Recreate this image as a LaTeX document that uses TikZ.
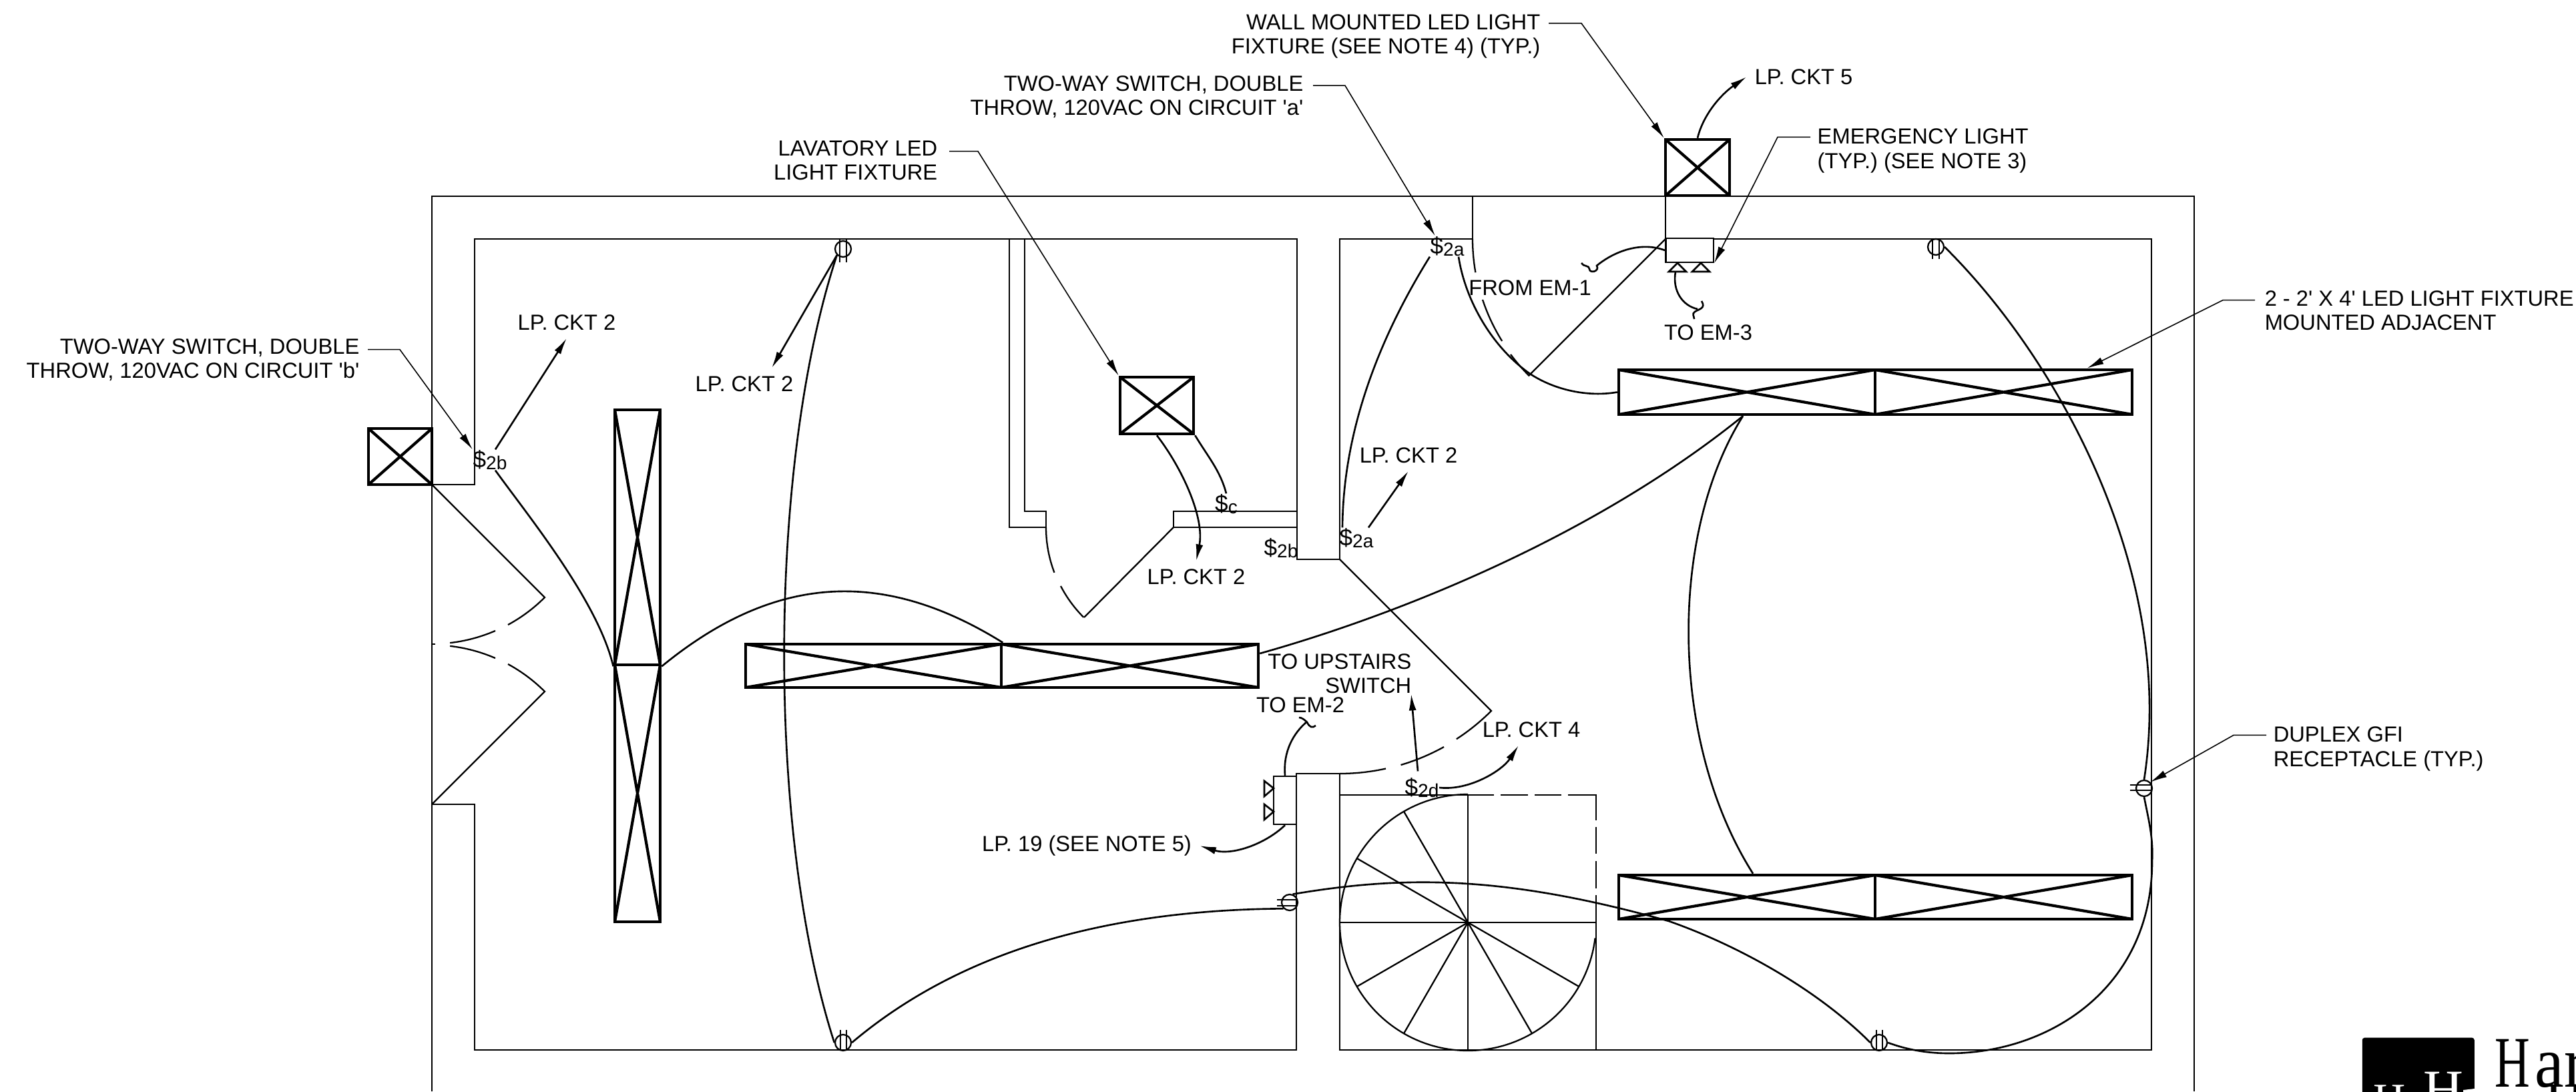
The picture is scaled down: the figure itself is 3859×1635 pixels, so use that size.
\documentclass[tikz,border=0pt]{standalone}
\usepackage{fontspec}
\setmainfont{Liberation Sans}
\newfontfamily\logofont{Liberation Serif}
\usetikzlibrary{arrows.meta}
\tikzset{
	wall/.style={line width=.65pt},
	wire/.style={line width=.75pt},
	lead/.style={line width=.45pt},
	fixture/.style 2 args={draw, line width=1.3pt, minimum width=#1, minimum height=#2,
		path picture={\draw[line width=1.2pt] (path picture bounding box.north west) -- (path picture bounding box.south east)
			(path picture bounding box.south west) -- (path picture bounding box.north east);}},
	recept/.style={draw, circle, line width=.65pt, minimum size=2.4mm},
	embox/.style 2 args={draw, line width=.7pt, minimum width=#1, minimum height=#2},
	ckt/.style={outer sep=1.2mm},
	swt/.style={font=\fontsize{10}{10.3}\selectfont},
}
\newcommand{\swsub}[1]{\raisebox{-1pt}{\fontsize{8}{8.5}\selectfont #1}}
\begin{document}
\begin{tikzpicture}[x=0.1mm, y=-0.1mm, inner sep=0pt, >={Latex[length=2.5mm,width=1.1mm]},
		every node/.append style={font=\fontsize{9.3}{10.3}\selectfont}]
	\useasboundingbox (0, 0) rectangle (3859, 1635);
	\clip (0, 0) rectangle (3859, 1635);
	\draw[wall] (647, 1635) -- (647, 294) -- (3287, 294) -- (3287, 1635);
	\draw[wall] (647, 726) -- (711, 726) -- (711, 358) -- (1943, 358) -- (1943, 838) -- (2007, 838) -- (2007, 358) -- (2206, 358) -- (2206, 294);
	\draw[wall] (2495, 294) -- (2495, 358) (2566, 358) -- (3223, 358) -- (3223, 1573) -- (2007, 1573) -- (2007, 1159) -- (1942, 1159) -- (1942, 1573) -- (711, 1573) -- (711, 1205) -- (647, 1205);
	\draw[wall] (1512, 358) -- (1512, 790) -- (1567, 790) -- (1567, 766) -- (1535, 766) -- (1535, 358);
	\draw[wall] (1943, 766) -- (1758, 766) -- (1758, 790) -- (1943, 790);
	\draw[wall] (1758, 790) -- (1624, 925);
	\draw[wall] (1567, 790) arc[start angle=180, end angle=200.8, radius=19.1mm];
	\draw[wall] (1589, 878) arc[start angle=207.5, end angle=225, radius=19.1mm];
	\draw[wall] (647, 726) -- (816, 895) arc[start angle=-45, end angle=-61.5, radius=23.9mm];
	\draw[wall] (742, 945) arc[start angle=-66.6, end angle=-83.5, radius=23.9mm];
	\draw[wall] (647, 1205) -- (816, 1036) arc[start angle=45, end angle=61.5, radius=23.9mm];
	\draw[wall] (742, 986) arc[start angle=66.6, end angle=83.5, radius=23.9mm];
	\draw[wall] (647, 965) -- (652, 965);
	\draw[wall] (2007, 838) -- (2234, 1065) arc[start angle=-45, end angle=-57, radius=32.1mm];
	\draw[wall] (2163, 1119) arc[start angle=-61, end angle=-73.5, radius=32.1mm];
	\draw[wall] (2076, 1151.5) arc[start angle=-77.6, end angle=-90, radius=32.1mm];
	\draw[wall] (2206, 358) arc[start angle=180, end angle=190, radius=28.9mm];
	\draw[wall] (2221, 449) arc[start angle=198.4, end angle=212, radius=28.9mm];
	\draw[wall] (2263, 531) arc[start angle=216.7, end angle=225, radius=28.9mm] -- (2495, 358);

	\coordinate (stair) at (2199, 1382);
	\draw[wall] (2238, 1191) -- (2007, 1191);
	\draw[wall] (2391, 1341) -- (2391, 1573);
	\draw[wall] (2248, 1191) -- (2289, 1191) (2299, 1191) -- (2339, 1191) (2349, 1191) -- (2391, 1191) -- (2391, 1229) (2391, 1239) -- (2391, 1279) (2391, 1290) -- (2391, 1331);
	\draw[wall] (2007, 1382) -- (2391, 1382) (2199, 1191) -- (2199, 1573);
	\draw[wall] (2199, 1190) arc[start angle=90, end angle=353, radius=19.2mm];
	\foreach \a in {120, 150, 210, 240, 300, 330}
		\draw[wall] (stair) -- ++(\a:19.2mm);

	\node[fixture={9.5mm}{8.4mm}] (sqWest) at (599.5, 684) {};
	\node[fixture={11mm}{8.5mm}] (sqLav) at (1733, 607.5) {};
	\node[fixture={9.6mm}{8.4mm}] (sqNorth) at (2543, 251) {};
	\node[fixture={6.8mm}{38.2mm}] (fixVa) at (955, 805) {};
	\node[fixture={6.8mm}{38.5mm}] (fixVb) at (955, 1188.5) {};
	\node[fixture={38.3mm}{6.5mm}] (fixHa) at (1308.5, 997.5) {};
	\node[fixture={38.5mm}{6.5mm}] (fixHb) at (1692.5, 997.5) {};
	\node[fixture={38.4mm}{6.7mm}] (fixNa) at (2617, 587.5) {};
	\node[fixture={38.5mm}{6.7mm}] (fixNb) at (3001.5, 587.5) {};
	\node[fixture={38.4mm}{6.6mm}] (fixSa) at (2617, 1344) {};
	\node[fixture={38.5mm}{6.6mm}] (fixSb) at (3001.5, 1344) {};

	\node[embox={7.15mm}{3.6mm}] (emNorth) at (2531, 375) {};
	\node[embox={3.4mm}{7.2mm}] (emSouth) at (1925, 1199) {};
	\draw[wire] (2500, 407) -- (2526, 407) -- (2513, 394) -- cycle (2535, 407) -- (2561, 407) -- (2548, 394) -- cycle;
	\draw[wire] (1894, 1170) -- (1894, 1193) -- (1908, 1181) -- cycle (1894, 1205) -- (1894, 1228) -- (1908, 1216) -- cycle;

	\node[recept] (recA) at (1263, 373) {};
	\node[recept] (recB) at (2900, 370) {};
	\node[recept] (recC) at (1263, 1562) {};
	\node[recept] (recD) at (2815, 1562) {};
	\node[recept] (recE) at (3212, 1181) {};
	\node[recept] (recF) at (1932, 1352) {};
	\draw[wall] (1258, 358) -- (1258, 393) (1268, 358) -- (1268, 393) (2895, 358) -- (2895, 388) (2905, 358) -- (2905, 388);
	\draw[wall] (1259, 1543) -- (1259, 1573) (1268, 1543) -- (1268, 1573) (2811, 1543) -- (2811, 1573) (2820, 1543) -- (2820, 1573);
	\draw[wall] (3191, 1176) -- (3224, 1176) (3191, 1184) -- (3224, 1184) (1913, 1348) -- (1944, 1348) (1913, 1357) -- (1944, 1357);

	\node[swt] (swWest) at (734, 689) {\$\swsub{2b}};
	\node[swt] (swTop) at (2168, 369) {\$\swsub{2a}};
	\node[swt] (swLow) at (2032, 806) {\$\swsub{2a}};
	\node[swt] (swLav) at (1837, 755) {\$\swsub{c}};
	\node[swt] (swHall) at (1919, 821) {\$\swsub{2b}};
	\node[swt] (swStair) at (2130, 1180) {\$\swsub{2d}};

	\node[ckt] (cktA) at (849, 483) {LP. CKT 2};
	\node[ckt] (cktB) at (1115, 575) {LP. CKT 2};
	\node[ckt] (cktC) at (1792, 864) {LP. CKT 2};
	\node[ckt] (cktD) at (2110, 682) {LP. CKT 2};
	\node[ckt] (cktFour) at (2294, 1093) {LP. CKT 4};
	\node[ckt] (cktFive) at (2702, 115) {LP. CKT 5};
	\node[ckt] (cktNineteen) at (1628, 1267) {LP. 19 (SEE NOTE 5)};
	\node (toEmTwo) at (1948, 1056) {TO EM-2};
	\node (toEmThree) at (2559, 498) {TO EM-3};
	\node (fromEmOne) at (2292, 431) {FROM EM-1};
	\node[anchor=east, align=right] (noteUp) at (2115, 1009) {TO UPSTAIRS\\SWITCH};
	\node[anchor=east, align=right] (noteWest) at (539, 539) {TWO-WAY SWITCH, DOUBLE\\THROW, 120VAC ON CIRCUIT \textquotesingle b\textquotesingle};
	\node[anchor=east, align=right] (noteTop) at (1953, 145.5) {TWO-WAY SWITCH, DOUBLE\\THROW, 120VAC ON CIRCUIT \textquotesingle a\textquotesingle};
	\node[anchor=east, align=right] (noteWall) at (2308, 54.5) {WALL MOUNTED LED LIGHT\\FIXTURE (SEE NOTE 4) (TYP.)};
	\node[anchor=east, align=right] (noteLav) at (1405, 240) {LAVATORY LED\\LIGHT FIXTURE};
	\node[anchor=west, align=left] (noteEm) at (2722, 226) {EMERGENCY LIGHT\\(TYP.) (SEE NOTE 3)};
	\node[anchor=west, align=left] (noteFix) at (3392, 465) {2 - 2\textquotesingle{} X 4\textquotesingle{} LED LIGHT FIXTURE\\MOUNTED ADJACENT};
	\node[anchor=west, align=left] (noteGfi) at (3405, 1122) {DUPLEX GFI\\RECEPTACLE (TYP.)};

	\draw[lead, ->] ([shift={(1.2mm,-1.7mm)}]noteWest.north east) -- ++(48, 0) -- (swWest.north west);
	\draw[lead, ->] ([shift={(1.4mm,-1.5mm)}]noteTop.north east) -- ++(48, 0) -- ([xshift=.8mm]swTop.north west);
	\draw[lead, ->] ([shift={(1.2mm,-1.4mm)}]noteWall.north east) -- ++(49, 0) -- (sqNorth.north west);
	\draw[lead, ->] ([shift={(1.7mm,-1.7mm)}]noteLav.north east) -- ++(43, 0) -- (sqLav.north west);
	\draw[lead, ->] ([shift={(-1mm,-1.3mm)}]noteEm.north west) -- ++(-49, 0) -- (emNorth.south east);
	\draw[lead, ->] ([shift={(-1.4mm,-1.5mm)}]noteFix.north west) -- ++(-48, 0) -- ([xshift=12.5mm]fixNb.north);
	\draw[lead, ->] ([shift={(-1mm,-1.3mm)}]noteGfi.north west) -- ++(-49, 0) -- (recE.north east);

	\draw[wire, ->] ([xshift=.8mm]swWest.north) -- (cktA.south);
	\draw[wire] ([xshift=.8mm]swWest.south) .. controls (792, 774) and (896, 901) .. (fixVa.south west);
	\draw[wire] (fixVa.south east) .. controls (1166, 855) and (1329, 855) .. (fixHa.north east);
	\draw[wire, ->] (recA.south west) -- ([xshift=4.1mm]cktB.north);
	\draw[wire] (recA.south west) .. controls (1149, 700) and (1149, 1250) .. (recC.west);
	\draw[wire] (recC.east) .. controls (1450, 1415) and (1680, 1363) .. (recF.south west);
	\draw[wire] (recF.70) .. controls (2100, 1312) and (2250, 1310) .. (2500, 1380) .. controls (2600, 1415) and (2720, 1480) .. (recD.west);
	\draw[wire] ([yshift=1.85mm]fixHb.east) .. controls (2080, 925) and (2380, 810) .. ([xshift=-.6mm]fixNa.south);
	\draw[wire] ([xshift=-.6mm]fixNa.south) .. controls (2500, 800) and (2500, 1110) .. ([xshift=.9mm]fixSa.north);
	\draw[wire] (recB.east) .. controls (3085, 540) and (3260, 860) .. (recE.north);
	\draw[wire] (recE.south) .. controls (3218, 1225) and (3226, 1255) .. (3224, 1290) .. controls (3224, 1480) and (3070, 1578) .. (2920, 1578) .. controls (2885, 1578) and (2855, 1572) .. (recD.east);
	\draw[wire] (swTop.south west) .. controls (2070, 500) and (2012, 640) .. ([xshift=-2.1mm]swLow.north);
	\draw[wire, ->] ([xshift=1.8mm]swLow.north) -- (cktD.south);
	\draw[wire] ([xshift=1.7mm]swTop.south) .. controls (2195, 450) and (2235, 520) .. (2292, 560) .. controls (2330, 585) and (2380, 595) .. (fixNa.west);
	\draw[wire] (sqLav.south east) .. controls (1810, 685) and (1828, 705) .. (swLav.north);
	\draw[wire, ->] (sqLav.south) .. controls (1770, 700) and (1805, 775) .. (cktC.north);
	\draw[wire, ->] ([yshift=.9mm,xshift=-.6mm]swStair.north) -- ([xshift=-.1mm]noteUp.south east);
	\draw[wire, ->] (swStair.east) .. controls (2200, 1185) and (2250, 1155) .. ([xshift=-1.9mm]cktFour.south);
	\draw[wire, ->] (sqNorth.north) .. controls (2552, 170) and (2580, 140) .. (cktFive.west);
	\draw[wire, ->] (emSouth.south) .. controls (1895, 1265) and (1845, 1282) .. (cktNineteen.east);
	\draw[wire] (emNorth.west) .. controls (2460, 362) and (2420, 375) .. (2392, 398) .. controls (2397, 407) and (2381, 410) .. (2381, 403) .. controls (2381, 397) and (2372, 400) .. (2369, 394);
	\draw[wire] (2510, 407) .. controls (2505, 435) and (2520, 458) .. (2543, 463);
	\draw[wire] (2549, 451) .. controls (2556, 462) and (2545, 463) .. (2539, 467) .. controls (2534, 470) and (2538, 474) .. (2538, 478);
	\draw[wire] (emSouth.north) .. controls (1922, 1125) and (1938, 1098) .. (1958, 1081);
	\draw[wire] (1946, 1075) .. controls (1950, 1075) and (1954, 1078) .. (1958, 1082) .. controls (1962, 1090) and (1966, 1091) .. (1971, 1087);

	\node[fill=black, rounded corners=1pt, minimum width=16.8mm, minimum height=12mm, anchor=north west] (logoBox) at (3538, 1554) {};
	\fill[white] (3690, 1633) -- (3707, 1631) -- (3707, 1640) -- (3690, 1640) -- cycle;
	\node[white, anchor=base west, font=\logofont\fontsize{23.6}{24}\selectfont] (logoH) at (3630, 1660) {H};
	\node[white, anchor=base west, font=\logofont\fontsize{19}{20}\selectfont] (logoW) at (3555, 1669) {H};
	\node[anchor=base west, font=\logofont\fontsize{31}{32}\selectfont] (logoName) at (3737, 1628) {\scalebox{.67}[1]{H}\kern2pt\scalebox{.9}[1]{ar}};
	\node[anchor=base west, font=\logofont\fontsize{24}{25}\selectfont] (logoSub) at (3812, 1680) {H};
\end{tikzpicture}
\end{document}
